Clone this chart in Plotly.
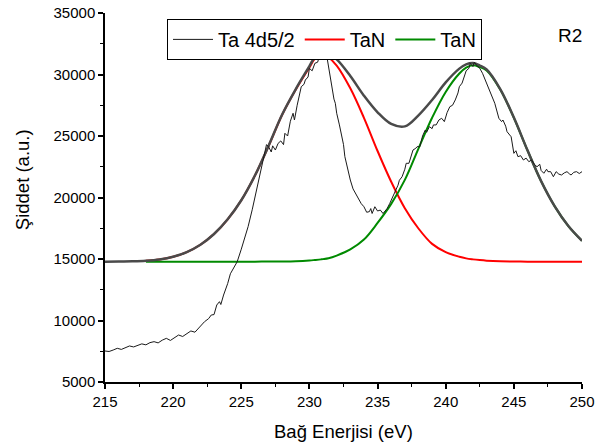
import plotly.graph_objects as go

exp_E = [215.0, 215.3, 215.6, 215.9, 216.2, 216.5, 216.8, 217.1, 217.4, 217.7,
         218.0, 218.3, 218.6, 218.9, 219.2, 219.5, 219.8, 220.1, 220.4, 220.7,
         221.0, 221.3, 221.6, 221.9, 222.3, 222.6, 222.8, 223.0, 223.2, 223.4,
         223.5, 223.7, 224.0, 224.2, 224.5, 224.7, 225.0, 225.2, 225.5, 225.8,
         226.0, 226.25, 226.5, 226.7, 226.85, 227.0, 227.2, 227.3, 227.5, 227.7,
         227.9, 228.1, 228.2, 228.4, 228.6, 228.8, 228.9, 229.1, 229.4, 229.6,
         229.7, 229.9, 230.0, 230.2, 230.4, 230.6, 230.8, 231.0, 231.2, 231.3,
         231.5, 231.6, 231.8, 231.9, 232.0, 232.2, 232.4, 232.5, 232.6, 232.8,
         233.0, 233.2, 233.5, 233.8, 234.0, 234.2, 234.4, 234.5, 234.6, 234.8,
         235.0, 235.2, 235.4, 235.5, 235.7, 235.9, 236.1, 236.3, 236.5, 236.6,
         236.8, 237.0, 237.1, 237.3, 237.5, 237.6, 237.8, 237.9, 238.1, 238.3,
         238.5, 238.6, 238.8, 239.0, 239.1, 239.3, 239.5, 239.7, 239.9, 240.1,
         240.3, 240.5, 240.7, 240.9, 241.0, 241.2, 241.4, 241.5, 241.7, 241.8,
         242.0, 242.1, 242.3, 242.5, 242.7, 242.9, 243.0, 243.2, 243.5, 243.6,
         243.9, 244.1, 244.2, 244.4, 244.5, 244.8, 245.0, 245.15, 245.3, 245.5,
         245.7, 245.9, 246.1, 246.3, 246.5, 246.7, 246.9, 247.0, 247.2, 247.4,
         247.5, 247.7, 247.9, 248.1, 248.3, 248.5, 248.7, 248.9, 249.1, 249.2,
         249.4, 249.6, 249.8, 250.0]
exp_I = [7520, 7480, 7600, 7740, 7650, 7820, 7930, 7850, 7980, 8100,
         8020, 8200, 8280, 8180, 8400, 8550, 8380, 8620, 8820, 8700,
         8950, 9150, 9050, 9400, 9900, 10150, 10450, 10480, 11260, 11530,
         11300, 12070, 13000, 13800, 14400, 14780, 15800, 16550, 17630, 19000,
         20000, 21420, 22600, 23590, 24300, 24130, 23700, 24200, 23860, 24400,
         24600, 24300, 25220, 25000, 26200, 26850, 26300, 27500, 29010, 29200,
         29550, 29800, 30500, 30300, 30910, 31000, 31720, 31450, 31550, 31320,
         30000, 29010, 28000, 27660, 26850, 25900, 24940, 24300, 23320, 22300,
         21420, 20700, 20070, 19500, 19250, 18800, 18850, 19100, 18700, 19250,
         18900, 18980, 18700, 18850, 19100, 19530, 20000, 20610, 21000, 21400,
         21690, 22300, 22780, 22780, 23590, 23860, 24000, 24130, 24130, 25000,
         25490, 25300, 25760, 25600, 25900, 25900, 26300, 26440, 26170, 26900,
         27380, 27500, 27930, 28500, 29010, 29300, 29960, 30300, 30500, 30900,
         30640, 31000, 30700, 30500, 30100, 29550, 29200, 28740, 27930, 27660,
         26440, 26170, 26300, 25800, 25350, 24940, 23590, 23800, 23320, 23400,
         23050, 23200, 22910, 23050, 22700, 22500, 22700, 22200, 21970, 22300,
         22100, 22100, 21690, 22100, 21900, 21830, 22000, 22100, 21900, 21830,
         22050, 22100, 21950, 22100]

# ---- fitted envelope and components ----
fit_E = [215, 216, 217, 218, 219, 220, 221, 222, 223, 224, 225, 226, 227, 228,
         229, 230, 230.4, 230.85, 231, 231.4, 232, 233, 234, 235, 236, 237, 238,
         239, 240, 241, 241.5, 242, 242.5, 243, 244, 245, 246, 247, 248, 249, 250]
envelope_I = [14785, 14792, 14810, 14855, 14960, 15180, 15560, 16160, 17030, 18230,
              19780, 21785, 24195, 26750, 28820, 30680, 31420, 31770, 31780, 31660,
              31230, 29880, 28280, 26930, 25980, 25780, 26680, 27930, 29360, 30480,
              30830, 30940, 30730, 30415, 28815, 26495, 23835, 21330, 19280, 17680,
              16480]

comp_E = [218, 219, 220, 221, 222, 223, 224, 225, 226, 227, 228,
          229, 230, 230.4, 230.85, 231, 231.4, 232, 233, 234, 235, 236, 237, 238,
          239, 240, 241, 241.5, 242, 242.5, 243, 244, 245, 246, 247, 248, 249, 250]
tan1_I = [14855, 14960, 15180, 15560, 16160, 17030, 18230, 19780, 21780, 24180, 26730,
          28780, 30580, 31280, 31580, 31570, 31380, 30730, 28880, 26480, 23780, 21280,
          19130, 17480, 16230, 15560, 15180, 15050, 14970, 14910, 14865, 14815, 14795,
          14785, 14780, 14780, 14780, 14780]
tan2_I = [14780, 14780, 14780, 14780, 14780, 14780, 14780, 14780, 14785, 14795, 14800,
          14820, 14880, 14920, 14970, 14990, 15060, 15280, 15780, 16580, 17930, 19480,
          21430, 23980, 26480, 28580, 30080, 30560, 30750, 30600, 30330, 28780, 26480,
          23830, 21330, 19280, 17680, 16480]

legend_names = ["Ta 4d5/2", "TaN", "TaN"]
x_ticks = [215, 220, 225, 230, 235, 240, 245, 250]
x_tick_labels = ["215", "220", "225", "230", "235", "240", "245", "250"]
y_ticks = [5000, 10000, 15000, 20000, 25000, 30000, 35000]
y_tick_labels = ["5000", "10000", "15000", "20000", "25000", "30000", "35000"]

FONT = "Liberation Sans, Arial, sans-serif"

fig = go.Figure()
fig.add_trace(go.Scatter(x=comp_E, y=tan1_I, mode="lines", name=legend_names[1],
                         legendrank=2,
                         line=dict(color="#ff0000", width=2, shape="spline")))
fig.add_trace(go.Scatter(x=comp_E, y=tan2_I, mode="lines", name=legend_names[2],
                         legendrank=3,
                         line=dict(color="#008a00", width=2, shape="spline")))
fig.add_trace(go.Scatter(x=fit_E, y=envelope_I, mode="lines", showlegend=False,
                         line=dict(color="#4a4a4a", width=2.5, shape="spline")))
fig.add_trace(go.Scatter(x=exp_E, y=exp_I, mode="lines", name=legend_names[0],
                         legendrank=1,
                         line=dict(color="#1a1a1a", width=1)))

axis_common = dict(showgrid=False, zeroline=False, showline=True, linecolor="black",
                   linewidth=1.5, ticks="outside", ticklen=5, tickwidth=1.5,
                   tickcolor="black", tickfont=dict(family=FONT, size=15, color="black"),
                   mirror=False, automargin=False)

fig.update_layout(
    width=597, height=448,
    margin=dict(l=105, r=15, t=13, b=66, autoexpand=False),
    paper_bgcolor="white", plot_bgcolor="white",
    font=dict(family=FONT, color="black"),
    xaxis=dict(range=[215, 250], tickvals=x_ticks, ticktext=x_tick_labels,
               minor=dict(ticks="outside", ticklen=3, tickwidth=1, dtick=2.5,
                          tick0=215, tickcolor="black"),
               **axis_common),
    yaxis=dict(range=[5000, 35000], tickvals=y_ticks, ticktext=y_tick_labels,
               minor=dict(ticks="outside", ticklen=3, tickwidth=1, dtick=2500,
                          tick0=5000, tickcolor="black"),
               **axis_common),
    legend=dict(orientation="h", x=0.13, y=0.984, xanchor="left", yanchor="top",
                bordercolor="black", borderwidth=1, bgcolor="white",
                font=dict(family=FONT, size=20, color="black"),
                itemwidth=40, tracegroupgap=0),
    annotations=[
        dict(text="Bağ Enerjisi (eV)", xref="paper", yref="paper", x=0.5, y=-0.1355,
             xanchor="center", yanchor="middle", showarrow=False,
             font=dict(family=FONT, size=18.5, color="black")),
        dict(text="Şiddet (a.u.)", xref="paper", yref="paper", x=-0.174, y=0.547,
             xanchor="center", yanchor="middle", textangle=-90, showarrow=False,
             font=dict(family=FONT, size=18.5, color="black")),
        dict(text="R2", xref="paper", yref="paper", x=0.975, y=0.94,
             xanchor="center", yanchor="middle", showarrow=False,
             font=dict(family=FONT, size=19, color="black")),
    ],
)

fig.write_html("out.html", config={"displayModeBar": False},
               post_script="document.body.style.margin='0px';")
